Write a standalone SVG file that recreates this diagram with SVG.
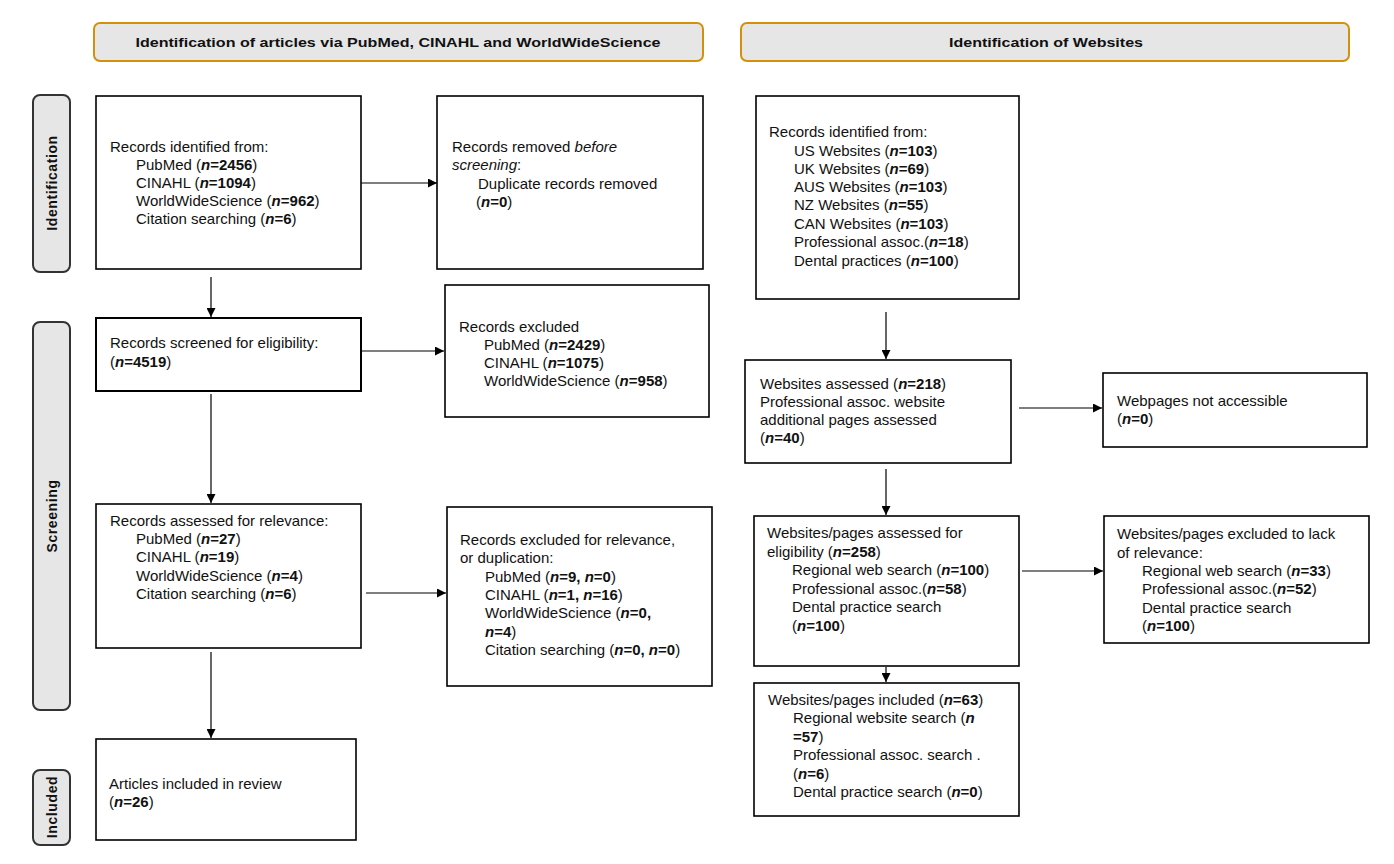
<svg xmlns="http://www.w3.org/2000/svg" width="1394" height="864" viewBox="0 0 1394 864">
<style>
.box{fill:#fff;stroke:#000;stroke-width:1.6}
.hdr{fill:#e6e6e6;stroke:#d4900a;stroke-width:2}
.side{fill:#e6e6e6;stroke:#333;stroke-width:2}
.t{font-family:"Liberation Sans",Arial,sans-serif;font-size:15px;fill:#111}
.ht{font-family:"Liberation Sans",Arial,sans-serif;font-size:13.5px;font-weight:bold;fill:#111}
.st{font-family:"Liberation Sans",Arial,sans-serif;font-size:14px;font-weight:bold;fill:#111;letter-spacing:0.6px}
.b{font-weight:bold}
.bi{font-weight:bold;font-style:italic}
.i{font-style:italic}
.ln{stroke:#000;stroke-width:1.2;fill:none}
</style>
<defs>
<marker id="ah" viewBox="0 0 10 10" refX="10" refY="5" markerWidth="10" markerHeight="9" markerUnits="userSpaceOnUse" orient="auto">
<path d="M0,0 L10,5 L0,10 z" fill="#000"/>
</marker>
</defs>

<g id="header-articles">
<rect class="hdr" x="94" y="23" width="609" height="38" rx="6"/>
<text class="ht" x="398" y="47" text-anchor="middle" textLength="525" lengthAdjust="spacingAndGlyphs">Identification of articles via PubMed, CINAHL and WorldWideScience</text>
</g>
<g id="header-websites">
<rect class="hdr" x="741" y="23" width="608" height="38" rx="6"/>
<text class="ht" x="1046" y="47" text-anchor="middle" textLength="194" lengthAdjust="spacingAndGlyphs">Identification of Websites</text>
</g>

<g id="side-identification">
<rect class="side" x="33" y="95" width="37" height="177" rx="7"/>
<text class="st" transform="translate(57,183) rotate(-90)" text-anchor="middle">Identification</text>
</g>
<g id="side-screening">
<rect class="side" x="33" y="322" width="37" height="388" rx="7"/>
<text class="st" transform="translate(57,516) rotate(-90)" text-anchor="middle">Screening</text>
</g>
<g id="side-included">
<rect class="side" x="33" y="770" width="37" height="75" rx="7"/>
<text class="st" transform="translate(57,807) rotate(-90)" text-anchor="middle">Included</text>
</g>

<g id="box-records-identified">
<rect class="box" x="96" y="96" width="265" height="173"/>
<text class="t" x="110" y="152">Records identified from:</text>
<text class="t" x="136" y="170">PubMed (<tspan class="bi">n</tspan><tspan class="b">=2456</tspan>)</text>
<text class="t" x="136" y="188">CINAHL (<tspan class="bi">n</tspan><tspan class="b">=1094</tspan>)</text>
<text class="t" x="136" y="206">WorldWideScience (<tspan class="bi">n</tspan><tspan class="b">=962</tspan>)</text>
<text class="t" x="136" y="224">Citation searching (<tspan class="bi">n</tspan><tspan class="b">=6</tspan>)</text>
</g>

<g id="box-records-removed">
<rect class="box" x="437" y="96" width="266" height="173"/>
<text class="t" x="452" y="152">Records removed <tspan class="i">before</tspan></text>
<text class="t" x="452" y="170"><tspan class="i">screening</tspan>:</text>
<text class="t" x="478" y="189">Duplicate records removed</text>
<text class="t" x="476" y="207">(<tspan class="bi">n</tspan><tspan class="b">=0</tspan>)</text>
</g>

<g id="box-records-screened">
<rect class="box" x="96" y="318" width="265" height="73" style="stroke-width:2"/>
<text class="t" x="110" y="348">Records screened for eligibility:</text>
<text class="t" x="110" y="367">(<tspan class="bi">n</tspan><tspan class="b">=4519</tspan>)</text>
</g>

<g id="box-records-excluded">
<rect class="box" x="445" y="285" width="264" height="132"/>
<text class="t" x="459" y="332">Records excluded</text>
<text class="t" x="484" y="350">PubMed (<tspan class="bi">n</tspan><tspan class="b">=2429</tspan>)</text>
<text class="t" x="484" y="368">CINAHL (<tspan class="bi">n</tspan><tspan class="b">=1075</tspan>)</text>
<text class="t" x="484" y="386">WorldWideScience (<tspan class="bi">n</tspan><tspan class="b">=958</tspan>)</text>
</g>

<g id="box-records-assessed">
<rect class="box" x="96" y="504" width="265" height="144"/>
<text class="t" x="110" y="526">Records assessed for relevance:</text>
<text class="t" x="136" y="544">PubMed (<tspan class="bi">n</tspan><tspan class="b">=27</tspan>)</text>
<text class="t" x="136" y="562">CINAHL (<tspan class="bi">n</tspan><tspan class="b">=19</tspan>)</text>
<text class="t" x="136" y="581">WorldWideScience (<tspan class="bi">n</tspan><tspan class="b">=4</tspan>)</text>
<text class="t" x="136" y="599">Citation searching (<tspan class="bi">n</tspan><tspan class="b">=6</tspan>)</text>
</g>

<g id="box-records-excluded-relevance">
<rect class="box" x="447" y="507" width="265" height="179"/>
<text class="t" x="460" y="545">Records excluded for relevance,</text>
<text class="t" x="460" y="563">or duplication:</text>
<text class="t" x="485" y="582">PubMed (<tspan class="bi">n</tspan><tspan class="b">=9, </tspan><tspan class="bi">n</tspan><tspan class="b">=0</tspan>)</text>
<text class="t" x="485" y="600">CINAHL (<tspan class="bi">n</tspan><tspan class="b">=1, </tspan><tspan class="bi">n</tspan><tspan class="b">=16</tspan>)</text>
<text class="t" x="485" y="618">WorldWideScience (<tspan class="bi">n</tspan><tspan class="b">=0,</tspan></text>
<text class="t" x="485" y="637"><tspan class="bi">n</tspan><tspan class="b">=4</tspan>)</text>
<text class="t" x="485" y="655">Citation searching (<tspan class="bi">n</tspan><tspan class="b">=0, </tspan><tspan class="bi">n</tspan><tspan class="b">=0</tspan>)</text>
</g>

<g id="box-articles-included">
<rect class="box" x="96" y="739" width="260" height="101"/>
<text class="t" x="109" y="789">Articles included in review</text>
<text class="t" x="109" y="807">(<tspan class="bi">n</tspan><tspan class="b">=26</tspan>)</text>
</g>

<g id="box-websites-identified">
<rect class="box" x="756" y="96" width="263" height="203"/>
<text class="t" x="769" y="137">Records identified from:</text>
<text class="t" x="794" y="156">US Websites (<tspan class="bi">n</tspan><tspan class="b">=103</tspan>)</text>
<text class="t" x="794" y="174">UK Websites (<tspan class="bi">n</tspan><tspan class="b">=69</tspan>)</text>
<text class="t" x="794" y="192">AUS Websites (<tspan class="bi">n</tspan><tspan class="b">=103</tspan>)</text>
<text class="t" x="794" y="210">NZ Websites (<tspan class="bi">n</tspan><tspan class="b">=55</tspan>)</text>
<text class="t" x="794" y="229">CAN Websites (<tspan class="bi">n</tspan><tspan class="b">=103</tspan>)</text>
<text class="t" x="794" y="247">Professional assoc.(<tspan class="bi">n</tspan><tspan class="b">=18</tspan>)</text>
<text class="t" x="794" y="266">Dental practices (<tspan class="bi">n</tspan><tspan class="b">=100</tspan>)</text>
</g>

<g id="box-websites-assessed">
<rect class="box" x="745" y="360" width="266" height="103"/>
<text class="t" x="760" y="389">Websites assessed (<tspan class="bi">n</tspan><tspan class="b">=218</tspan>)</text>
<text class="t" x="760" y="407">Professional assoc. website</text>
<text class="t" x="760" y="425">additional pages assessed</text>
<text class="t" x="760" y="443">(<tspan class="bi">n</tspan><tspan class="b">=40</tspan>)</text>
</g>

<g id="box-webpages-not-accessible">
<rect class="box" x="1103" y="373" width="264" height="74"/>
<text class="t" x="1117" y="406">Webpages not accessible</text>
<text class="t" x="1117" y="424">(<tspan class="bi">n</tspan><tspan class="b">=0</tspan>)</text>
</g>

<g id="box-websites-eligibility">
<rect class="box" x="754" y="516" width="265" height="150"/>
<text class="t" x="767" y="538">Websites/pages assessed for</text>
<text class="t" x="767" y="557">eligibility (<tspan class="bi">n</tspan><tspan class="b">=258</tspan>)</text>
<text class="t" x="792" y="575">Regional web search (<tspan class="bi">n</tspan><tspan class="b">=100</tspan>)</text>
<text class="t" x="792" y="594">Professional assoc.(<tspan class="bi">n</tspan><tspan class="b">=58</tspan>)</text>
<text class="t" x="792" y="612">Dental practice search</text>
<text class="t" x="792" y="631">(<tspan class="bi">n</tspan><tspan class="b">=100</tspan>)</text>
</g>

<g id="box-websites-excluded">
<rect class="box" x="1104" y="516" width="265" height="127"/>
<text class="t" x="1117" y="539">Websites/pages excluded to lack</text>
<text class="t" x="1117" y="558">of relevance:</text>
<text class="t" x="1142" y="576">Regional web search (<tspan class="bi">n</tspan><tspan class="b">=33</tspan>)</text>
<text class="t" x="1142" y="594">Professional assoc.(<tspan class="bi">n</tspan><tspan class="b">=52</tspan>)</text>
<text class="t" x="1142" y="613">Dental practice search</text>
<text class="t" x="1142" y="631">(<tspan class="bi">n</tspan><tspan class="b">=100</tspan>)</text>
</g>

<g id="box-websites-included">
<rect class="box" x="754" y="683" width="265" height="133"/>
<text class="t" x="768" y="705">Websites/pages included (<tspan class="bi">n</tspan><tspan class="b">=63</tspan>)</text>
<text class="t" x="793" y="723">Regional website search (<tspan class="bi">n</tspan></text>
<text class="t" x="793" y="742"><tspan class="b">=57</tspan>)</text>
<text class="t" x="793" y="760">Professional assoc. search .</text>
<text class="t" x="793" y="779">(<tspan class="bi">n</tspan><tspan class="b">=6</tspan>)</text>
<text class="t" x="793" y="797">Dental practice search (<tspan class="bi">n</tspan><tspan class="b">=0</tspan>)</text>
</g>

<g id="connectors">
<line class="ln" x1="361" y1="183" x2="437" y2="183" marker-end="url(#ah)"/>
<line class="ln" x1="211" y1="277" x2="211" y2="317" marker-end="url(#ah)"/>
<line class="ln" x1="361" y1="351" x2="444" y2="351" marker-end="url(#ah)"/>
<line class="ln" x1="211" y1="394" x2="211" y2="503" marker-end="url(#ah)"/>
<line class="ln" x1="366" y1="593" x2="446" y2="593" marker-end="url(#ah)"/>
<line class="ln" x1="211" y1="652" x2="211" y2="738" marker-end="url(#ah)"/>
<line class="ln" x1="886" y1="312" x2="886" y2="359" marker-end="url(#ah)"/>
<line class="ln" x1="1019" y1="408" x2="1102" y2="408" marker-end="url(#ah)"/>
<line class="ln" x1="886" y1="469" x2="886" y2="515" marker-end="url(#ah)"/>
<line class="ln" x1="1022" y1="571" x2="1103" y2="571" marker-end="url(#ah)"/>
<line class="ln" x1="886" y1="667" x2="886" y2="682" marker-end="url(#ah)"/>
</g>
</svg>
